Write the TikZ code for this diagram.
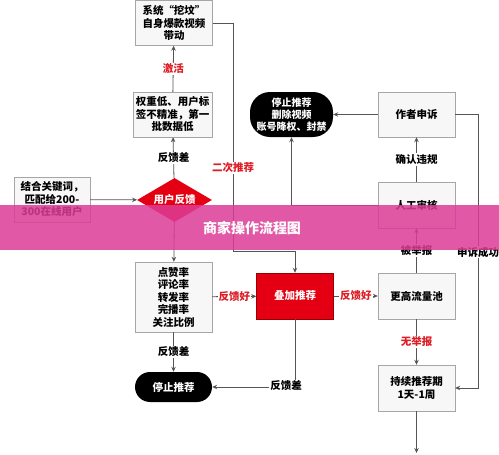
\documentclass[tikz,border=0pt]{standalone}
\usepackage{fontspec}
\setmainfont{Noto Sans CJK SC}
\usepackage{tikz}
\usetikzlibrary{shapes.geometric, arrows.meta}
\definecolor{flowred}{RGB}{228, 0, 18}
\definecolor{tagred}{RGB}{222, 28, 36}
\definecolor{band}{RGB}{220, 60, 150}
\definecolor{edge}{RGB}{85, 85, 85}

\tikzset{
  box/.style={draw=gray!70, fill=gray!6, minimum width=77pt, minimum height=46pt, align=center, inner sep=2pt, font=\fontsize{10.5}{12.5}\selectfont\bfseries},
  redbox/.style={box, draw=red!60!black, fill=flowred, text=white},
  pill/.style={fill=black, text=white, align=center, inner sep=2pt, font=\fontsize{10.5}{12.5}\selectfont\bfseries},
  flow/.style={draw=edge, line width=0.8pt, -{Stealth[length=5pt, width=4.5pt]}},
  tag/.style={fill=white, inner sep=1pt, font=\fontsize{10.5}{12.5}\selectfont\bfseries},
}

\begin{document}
\begin{tikzpicture}[x=1pt, y=-1pt]
  \useasboundingbox (0, 0) rectangle (499, 455);

  \node[box, minimum height=45pt] (wafen) at (174, 23) {系统“挖坟”\\自身爆款视频\\带动};
  \node[box, minimum height=45pt, minimum width=79pt] (weight) at (172.5, 114.5) {权重低、用户标\\签不精准，第一\\批数据低};
  \node[diamond, aspect=1.7, minimum width=75pt, minimum height=44pt, inner sep=0pt, fill=flowred, text=white, font=\fontsize{10.5}{12.5}\selectfont\bfseries] (feedback) at (174.5, 200) {用户反馈};
  \node[box, minimum width=76pt, minimum height=45pt] (match) at (52, 199.5) {结合关键词，\\匹配给200-\\300在线用户};
  \node[box, minimum height=70pt] (rates) at (173.5, 297) {点赞率\\评论率\\转发率\\完播率\\关注比例};
  \node[pill, rounded corners=15pt, minimum width=77pt, minimum height=30pt] (stop) at (173.5, 387) {停止推荐};

  \node[redbox] (boost) at (295, 296) {叠加推荐};
  \node[pill, rounded corners=20pt, minimum width=83pt, minimum height=45pt, font=\fontsize{10}{12}\selectfont\bfseries] (ban) at (291.5, 114.5) {停止推荐\\删除视频\\账号降权、封禁};

  \node[box, minimum height=45pt] (appeal) at (416.5, 114.5) {作者申诉};
  \node[box] (review) at (416.5, 205) {人工审核};
  \node[box] (pool) at (416.5, 296) {更高流量池};
  \node[box] (lasting) at (416.5, 388) {持续推荐期\\1天-1周};
  \coordinate (exit) at (416.5, 453);

  % left column
  \draw[flow] (weight) -- (wafen) node[tag, text=tagred, midway] (t1) {激活};
  \draw[flow] (feedback) -- (weight) node[tag, midway] (t2) {反馈差};
  \draw[flow] (match) -- (feedback);
  \draw[flow] (feedback) -- (rates);
  \draw[flow] (rates) -- (stop) node[tag, midway] (t3) {反馈差};
  \draw[flow] (rates) -- (boost) node[tag, text=tagred, midway] (t4) {反馈好};

  % second recommendation
  \coordinate (turn) at (233, 251);
  \draw[flow] (wafen.east) -| (turn) -| (boost.north);
  \node[tag, text=tagred] (t5) at (233, 168) {二次推荐};

  \draw[flow] (boost) |- (stop.east);
  \node[tag] (t6) at (286, 386) {反馈差};
  \draw[flow] (boost) -- (pool) node[tag, text=tagred, midway] (t7) {反馈好};

  % right column
  \draw[flow] (pool) -- (lasting) node[tag, text=tagred, midway] (t8) {无举报};
  \draw[flow] (pool) -- (review) node[tag, midway] (t9) {被举报};
  \draw[flow] (review) -- (appeal) node[tag, midway] (t10) {确认违规};
  \draw[flow] (appeal) -- (ban);
  \draw[flow] (review.west) -| (ban.south);
  \draw[flow] (appeal.east) -- ++(23, 0) |- (lasting.east);
  \node[tag] (t11) at (478, 252) {申诉成功};
  \draw[flow] (lasting) -- (exit);

  % banner on top
  \fill[band, opacity=0.85] (0, 205) rectangle (499, 250);
  \node[text=white, font=\fontsize{14}{14}\selectfont\bfseries] (title) at (252, 228) {商家操作流程图};
\end{tikzpicture}
\end{document}
